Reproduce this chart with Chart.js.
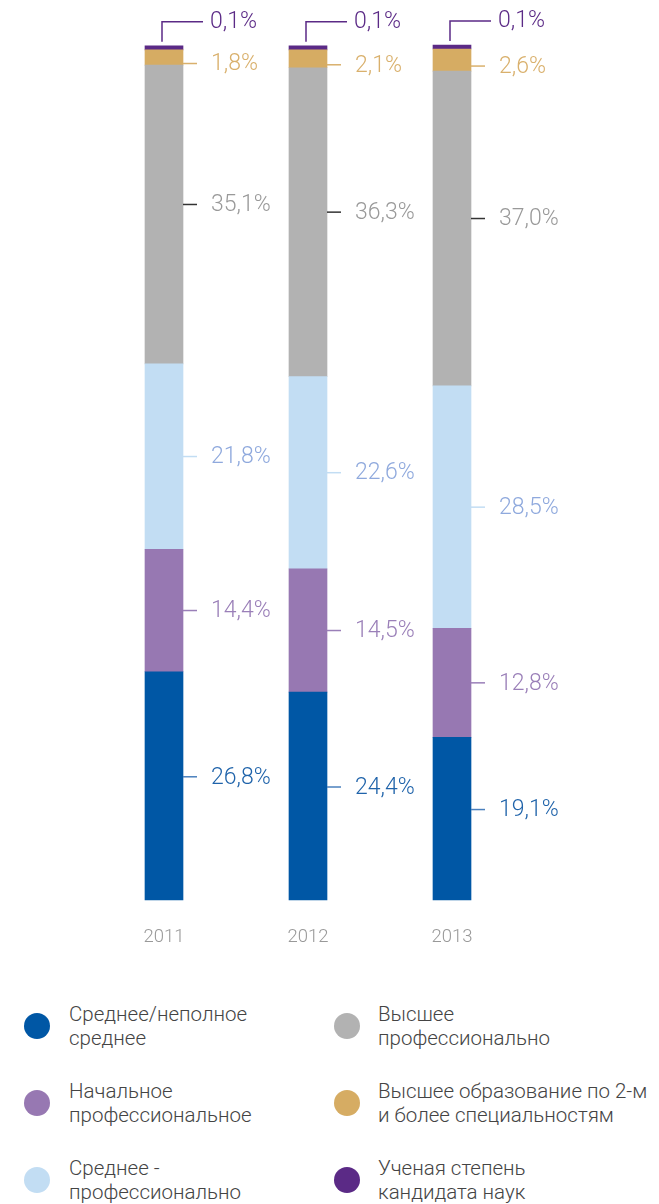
<!DOCTYPE html>
<html>
<head>
<meta charset="utf-8">
<script src="https://cdn.jsdelivr.net/npm/chart.js@4/dist/chart.umd.min.js"></script>
<style>
    body { margin: 0; background: #fff; font-family: 'Roboto', 'Liberation Sans', sans-serif; }
    #wrap { position: relative; width: 659px; height: 1204px; }
    #chart-box { position: absolute; left: 0; top: 0; width: 659px; height: 978px; }
    #legend { position: absolute; left: 0; top: 1002px; width: 659px; }
    .item { position: absolute; font-size: 20.5px; line-height: 24px; color: #444; font-weight: 300; white-space: nowrap; }
    .dot { position: absolute; width: 26px; height: 26px; border-radius: 50%; }
</style>
</head>
<body>
<div id="wrap">
    <div id="chart-box"><canvas id="edu-chart"></canvas></div>
    <div id="legend"></div>
</div>
<script>
const years = ['2011', '2012', '2013'];
const seriesNames = [
    'Среднее/неполное среднее',
    'Начальное профессиональное',
    'Среднее - профессионально',
    'Высшее профессионально',
    'Высшее образование по 2-м и более специальностям',
    'Ученая степень кандидата наук'
];
const secondary = [26.8, 24.4, 19.1];
const primaryProf = [14.4, 14.5, 12.8];
const secondaryProf = [21.8, 22.6, 28.5];
const higherProf = [35.1, 36.3, 37.0];
const twoDegrees = [1.8, 2.1, 2.6];
const phd = [0.1, 0.1, 0.1];

const legendLines = [
    ['Среднее/неполное', 'среднее'],
    ['Начальное', 'профессиональное'],
    ['Среднее -', 'профессионально'],
    ['Высшее', 'профессионально'],
    ['Высшее образование по 2-м', 'и более специальностям'],
    ['Ученая степень', 'кандидата наук']
];

const barColors = ['#0057a5', '#9778b2', '#c2ddf3', '#b2b2b2', '#d6ac63', '#5b2a86'];
const textColors = ['#1f63aa', '#9a7fb8', '#8fa9dd', '#999999', '#d9b06c', '#5b2a86'];
const tickColors = ['#4a80bd', '#9a7fb8', '#c2ddf3', '#333333', '#d9b06c', '#5b2a86'];
// small vertical nudges of the value labels, per series
const labelShift = [-9, 0, 0, -10, 6, 0];

const valueFont = '300 23px Roboto, "Liberation Sans", sans-serif';

const labelPlugin = {
    id: 'segLabels',
    afterDatasetsDraw(chart) {
        const ctx = chart.ctx;
        ctx.save();
        ctx.font = valueFont;
        ctx.textBaseline = 'middle';
        ctx.textAlign = 'left';
        ctx.lineWidth = 1.5;
        chart.data.datasets.forEach((ds, di) => {
            const meta = chart.getDatasetMeta(di);
            meta.data.forEach((bar, i) => {
                const right = bar.x + bar.width / 2;
                const mid = (bar.y + bar.base) / 2;
                const txt = ds.data[i].toFixed(1).replace('.', ',') + '%';
                ctx.strokeStyle = tickColors[di];
                ctx.fillStyle = textColors[di];
                ctx.beginPath();
                if (di === 5) {
                    // elbow leader for the thin top segment
                    ctx.moveTo(bar.x - 2, bar.y - 4);
                    ctx.lineTo(bar.x - 2, bar.y - 24);
                    ctx.lineTo(right + 20, bar.y - 24);
                    ctx.stroke();
                    ctx.fillText(txt, right + 27, bar.y - 24);
                } else {
                    const y = mid + labelShift[di];
                    ctx.moveTo(right, y);
                    ctx.lineTo(right + 14, y);
                    ctx.stroke();
                    ctx.fillText(txt, right + 28, y + 1);
                }
            });
        });
        ctx.restore();
    }
};

const allSeries = [secondary, primaryProf, secondaryProf, higherProf, twoDegrees, phd];

new Chart(document.getElementById('edu-chart'), {
    type: 'bar',
    data: {
        labels: years,
        datasets: allSeries.map((vals, i) => ({
            label: seriesNames[i],
            data: vals,
            backgroundColor: barColors[i],
            borderWidth: 0,
            barThickness: 38,
            minBarLength: i === 5 ? 4 : 0,
            clip: false
        }))
    },
    options: {
        responsive: true,
        maintainAspectRatio: false,
        animation: false,
        layout: { padding: { left: 92, right: 135, top: 49, bottom: 12 } },
        scales: {
            x: {
                stacked: true,
                grid: { display: false },
                border: { display: false },
                ticks: {
                    color: '#999999',
                    font: { family: 'Roboto, "Liberation Sans", sans-serif', size: 18.5, weight: 300 },
                    padding: 18
                }
            },
            y: {
                stacked: true,
                display: false,
                min: 0,
                max: 100
            }
        },
        plugins: {
            legend: { display: false },
            tooltip: { enabled: false }
        }
    },
    plugins: [labelPlugin]
});

// html legend, two columns
const legendEl = document.getElementById('legend');
legendLines.forEach((lines, i) => {
    const col = i < 3 ? 0 : 1;
    const row = i % 3;
    const top = row * 77;
    const dot = document.createElement('div');
    dot.className = 'dot';
    dot.style.background = barColors[i];
    dot.style.left = (col === 0 ? 24 : 334) + 'px';
    dot.style.top = (top + 11) + 'px';
    legendEl.appendChild(dot);
    const item = document.createElement('div');
    item.className = 'item';
    item.style.left = (col === 0 ? 69 : 378) + 'px';
    item.style.top = top + 'px';
    item.innerHTML = lines.join('<br>');
    legendEl.appendChild(item);
});
</script>
</body>
</html>
